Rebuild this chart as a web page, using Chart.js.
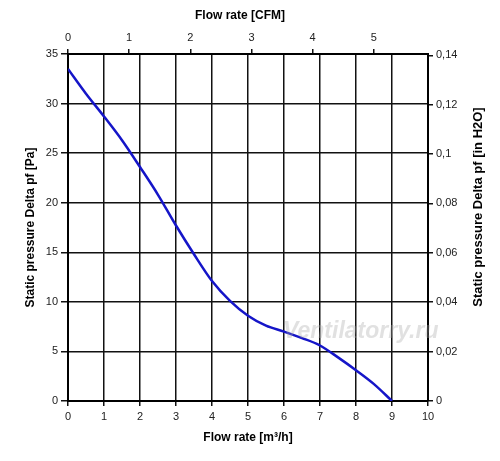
<!DOCTYPE html>
<html>
<head>
<meta charset="utf-8">
<title>Fan curve</title>
<script src="https://cdn.jsdelivr.net/npm/chart.js@4.4.1/dist/chart.umd.min.js"></script>
<style>
  html, body { margin: 0; padding: 0; background: #fff; }
  #wrap { width: 500px; height: 461px; }
</style>
</head>
<body>
<div id="wrap"><canvas id="fanChart"></canvas></div>
<script>
// curve
var flowM3h = [0, 0.5, 1, 1.5, 2, 2.5, 3, 3.5, 4, 4.5, 5, 5.5, 6, 6.5, 7, 7.5, 8, 8.5, 9];
var pressurePa = [33.5, 31.0, 28.7, 26.3, 23.6, 20.8, 17.7, 14.8, 12.1, 10.1, 8.6, 7.6, 7.0, 6.35, 5.6, 4.4, 3.1, 1.7, 0];

var cfmTicks = [0, 1, 2, 3, 4, 5];
var inH2OTicks = [0, 0.02, 0.04, 0.06, 0.08, 0.1, 0.12, 0.14];

var M3H_PER_CFM = 1.699;
var INH2O_PER_PA = 0.0040146;

var points = flowM3h.map(function (x, i) { return { x: x, y: pressurePa[i] }; });

var tickFont = { family: "'Liberation Sans', Arial, sans-serif", size: 11 };
var titleFont = { family: "'Liberation Sans', Arial, sans-serif", size: 12, weight: 'bold' };

function setTicks(list) {
    return function (scale) {
        scale.ticks = list.map(function (v) { return { value: v }; });
    };
}
function fixSize(prop, size) {
    return function (scale) { scale[prop] = size; };
}

// titles for the top and right axes + watermark
var extraText = {
    id: 'extraText',
    afterDraw: function (chart) {
        var ctx = chart.ctx;
        ctx.save();
        ctx.fillStyle = '#000';
        ctx.font = "bold 12px 'Liberation Sans', Arial, sans-serif";
        ctx.textAlign = 'center';
        ctx.textBaseline = 'middle';
        ctx.fillText('Flow rate [CFM]', 240, 16);

        ctx.translate(478, 207);
        ctx.rotate(-Math.PI / 2);
        ctx.font = "bold 13px 'Liberation Sans', Arial, sans-serif";
        ctx.fillText('Static pressure Delta pf [in H2O]', 0, 0);
        ctx.restore();

        ctx.save();
        ctx.fillStyle = 'rgba(170, 170, 170, 0.35)';
        ctx.font = "italic bold 23px 'Liberation Sans', Arial, sans-serif";
        ctx.textAlign = 'left';
        ctx.textBaseline = 'alphabetic';
        ctx.fillText('Ventilatorry.ru', 283, 338);
        ctx.restore();
    }
};

var ctx = document.getElementById('fanChart').getContext('2d');
var fanChart = new Chart(ctx, {
    type: 'line',
    data: {
        datasets: [{
            label: 'Static pressure',
            data: points,
            borderColor: '#1515c8',
            borderWidth: 2.5,
            pointRadius: 0,
            fill: false,
            cubicInterpolationMode: 'monotone'
        }]
    },
    options: {
        responsive: true,
        maintainAspectRatio: false,
        animation: false,
        layout: { padding: 0 },
        plugins: {
            legend: { display: false },
            tooltip: { enabled: false }
        },
        scales: {
            x: {
                type: 'linear',
                position: 'bottom',
                min: 0,
                max: 10,
                afterFit: fixSize('height', 60),
                ticks: { stepSize: 1, font: tickFont, color: '#222', padding: 4, maxRotation: 0 },
                grid: { color: '#111', lineWidth: 1.5, tickLength: 5 },
                border: { color: '#000', width: 2 },
                title: { display: true, text: 'Flow rate [m³/h]', font: titleFont, color: '#000', padding: { top: 0, bottom: 16 } }
            },
            x2: {
                type: 'linear',
                position: 'top',
                min: 0,
                max: 10 / M3H_PER_CFM,
                afterFit: fixSize('height', 54),
                afterBuildTicks: setTicks(cfmTicks),
                ticks: { font: tickFont, color: '#222', padding: 4, maxRotation: 0 },
                grid: { drawOnChartArea: false, color: '#111', lineWidth: 1.5, tickLength: 5 },
                border: { color: '#000', width: 2 }
            },
            y: {
                type: 'linear',
                position: 'left',
                min: 0,
                max: 35,
                afterFit: fixSize('width', 68),
                ticks: { stepSize: 5, font: tickFont, color: '#222', padding: 3 },
                grid: { color: '#111', lineWidth: 1.5, tickLength: 7 },
                border: { color: '#000', width: 2 },
                title: { display: true, text: 'Static pressure Delta pf [Pa]', font: titleFont, color: '#000', padding: { top: 23, bottom: 0 } }
            },
            y2: {
                type: 'linear',
                position: 'right',
                min: 0,
                max: 35 * INH2O_PER_PA,
                afterFit: fixSize('width', 72),
                afterBuildTicks: setTicks(inH2OTicks),
                ticks: {
                    font: tickFont, color: '#222', padding: 3,
                    callback: function (v) { return String(+v.toFixed(2)).replace('.', ','); }
                },
                grid: { drawOnChartArea: false, color: '#111', lineWidth: 1.5, tickLength: 5 },
                border: { color: '#000', width: 2 }
            }
        }
    },
    plugins: [extraText]
});
</script>
</body>
</html>
